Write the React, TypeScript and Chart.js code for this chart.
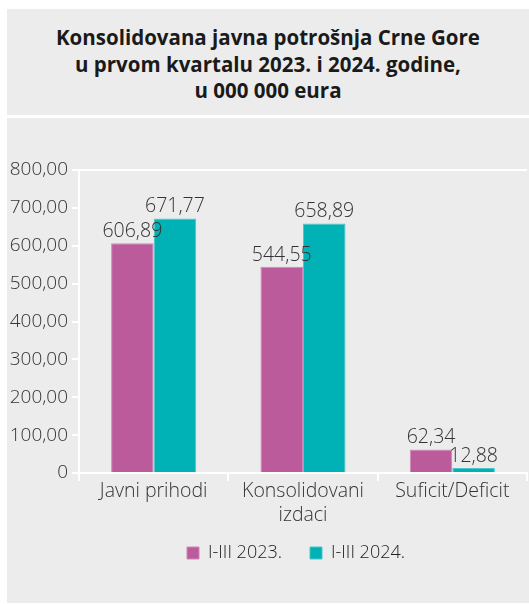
import { useEffect, useRef } from "react";
import { Chart, registerables } from "chart.js";

Chart.register(...registerables);

const titleLines = [
  "Konsolidovana javna potrošnja Crne Gore",
  "u prvom kvartalu 2023. i 2024. godine,",
  "u 000 000 eura",
];
const categories = [["Javni prihodi"], ["Konsolidovani", "izdaci"], ["Suficit/Deficit"]];
const seriesNames = ["I-III 2023.", "I-III 2024."];
const values2023 = [606.89, 544.55, 62.34];
const values2024 = [671.77, 658.89, 12.88];
const yMin = 0;
const yMax = 800;
const yStep = 100;

const COLOR_2023 = "#bb5b9c";
const COLOR_2024 = "#00b2b5";
const FONT = "'Open Sans', 'Noto Sans', sans-serif";

const fmt = (v: number) => (v === 0 ? "0" : v.toFixed(2).replace(".", ","));

const valueLabels = {
  id: "valueLabels",
  afterDatasetsDraw(chart: any) {
    const ctx = chart.ctx;
    ctx.save();
    ctx.font = `300 19.5px ${FONT}`;
    ctx.fillStyle = "#333333";
    ctx.textAlign = "center";
    ctx.textBaseline = "bottom";
    chart.data.datasets.forEach((ds: any, i: number) => {
      const meta = chart.getDatasetMeta(i);
      meta.data.forEach((el: any, j: number) => {
        ctx.fillText(fmt(ds.data[j]), el.x, el.y - 2);
      });
    });
    ctx.restore();
  },
};

// nudge the legend box closer to the axis labels, as in the reference
const legendNudge = {
  id: "legendNudge",
  afterLayout(chart: any) {
    const l = chart.legend;
    if (!l) return;
    l.top -= 23;
    l.bottom -= 23;
    l.left -= 7;
    l.right -= 7;
  },
};

export default function App() {
  const ref = useRef<HTMLCanvasElement | null>(null);

  useEffect(() => {
    if (!ref.current) return;
    const chart = new Chart(ref.current, {
      type: "bar",
      data: {
        labels: categories,
        datasets: [
          {
            label: seriesNames[0],
            data: values2023,
            backgroundColor: COLOR_2023,
            borderColor: "#cf86b8",
            borderWidth: 1,
            categoryPercentage: 0.57,
            barPercentage: 1,
          },
          {
            label: seriesNames[1],
            data: values2024,
            backgroundColor: COLOR_2024,
            borderColor: "#4cc6c8",
            borderWidth: 1,
            categoryPercentage: 0.57,
            barPercentage: 1,
          },
        ],
      },
      options: {
        animation: false,
        responsive: false,
        maintainAspectRatio: false,
        layout: { padding: { top: 52, right: 2, left: 0, bottom: 8 } },
        plugins: {
          title: { display: false },
          tooltip: { enabled: false },
          legend: {
            position: "bottom",
            fullSize: false,
            labels: {
              boxWidth: 12,
              boxHeight: 12,
              padding: 28,
              color: "#222222",
              font: { family: FONT, size: 18, weight: "300" as any },
            },
          },
        },
        scales: {
          x: {
            grid: {
              display: true,
              drawOnChartArea: false,
              drawTicks: true,
              tickLength: 8,
              color: "#ffffff",
              tickColor: "#ffffff",
              lineWidth: 2,
              offset: true,
            },
            border: { display: true, color: "#ffffff", width: 2 },
            ticks: {
              color: "#333333",
              padding: -2,
              font: { family: FONT, size: 19.5, weight: "300" as any, lineHeight: 1.23 },
              maxRotation: 0,
            },
            afterFit(scale: any) {
              scale.height = 66;
            },
          },
          y: {
            min: yMin,
            max: yMax,
            ticks: {
              stepSize: yStep,
              color: "#333333",
              padding: 4,
              font: { family: FONT, size: 19, weight: "300" as any },
              callback: (v: any) => fmt(Number(v)),
            },
            grid: {
              color: (c: any) => (c.tick && c.tick.value === yMax ? "#ffffff" : "rgba(0,0,0,0)"),
              tickColor: "#ffffff",
              tickLength: 7,
              lineWidth: 2,
            },
            border: { display: true, color: "#ffffff", width: 2 },
            afterFit(scale: any) {
              scale.width = 72;
            },
          },
        },
      },
      plugins: [valueLabels, legendNudge],
    });
    return () => chart.destroy();
  }, []);

  return (
    <div
      style={{
        position: "absolute",
        left: 0,
        top: 0,
        width: 529,
        height: 604,
        background: "#ffffff",
        overflow: "hidden",
      }}
    >
      <div
        style={{
          position: "absolute",
          left: 7,
          top: 9,
          width: 522,
          height: 106,
          background: "#ececec",
          boxSizing: "border-box",
          paddingTop: 15,
          textAlign: "center",
          fontFamily: FONT,
          fontWeight: 700,
          fontSize: 20.5,
          lineHeight: "26.5px",
          color: "#1a1a1a",
        }}
      >
        {titleLines.map((t, i) => (
          <div key={i}>{t}</div>
        ))}
      </div>
      <div
        style={{
          position: "absolute",
          left: 7,
          top: 118,
          width: 522,
          height: 485,
          background: "#ececec",
        }}
      >
        <canvas ref={ref} width={522} height={485} style={{ display: "block" }} />
      </div>
    </div>
  );
}
